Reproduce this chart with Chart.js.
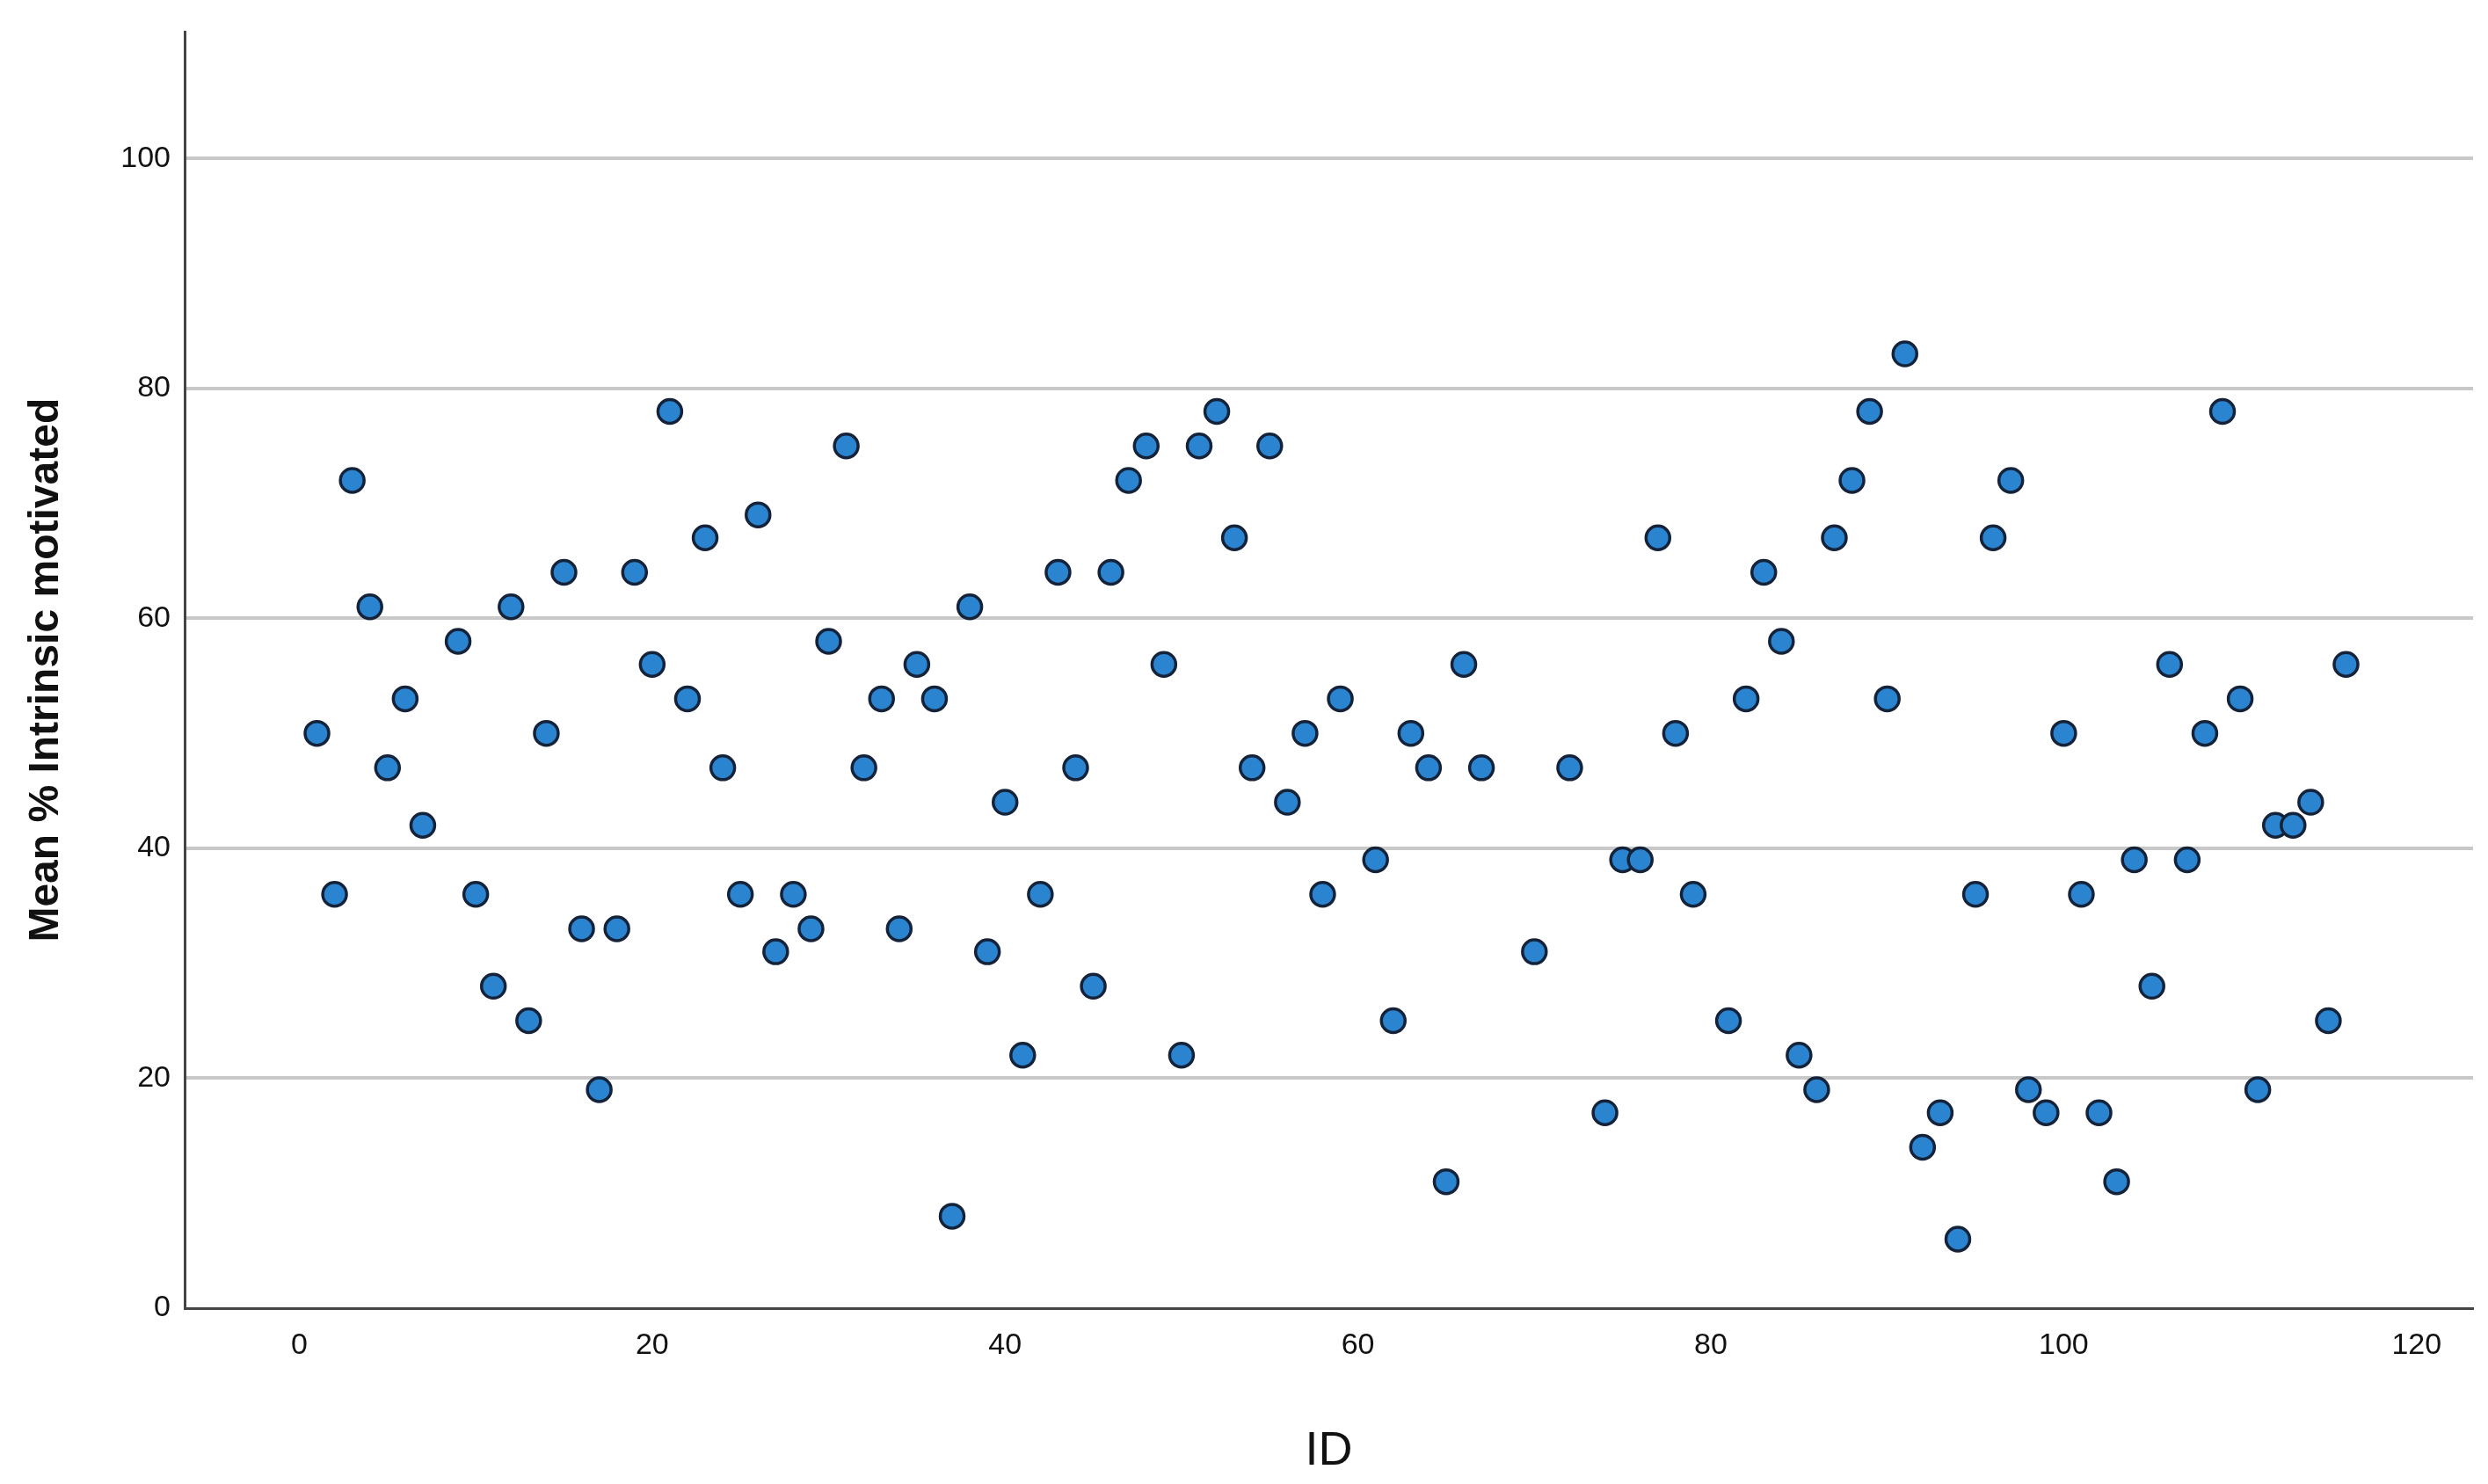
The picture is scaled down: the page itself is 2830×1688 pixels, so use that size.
<!DOCTYPE html>
<html>
<head>
<meta charset="utf-8">
<script src="https://cdn.jsdelivr.net/npm/chart.js@4"></script>
<style>
  html, body { margin: 0; padding: 0; background: #fff; }
</style>
</head>
<body>
<canvas id="grafico" width="2830" height="1688"></canvas>
<script>
// dados
const ids = [1,2,3,4,5,6,7,9,10,11,12,13,14,15,16,17,18,19,20,21,22,23,24,25,26,27,28,29,30,
  31,32,33,34,35,36,37,38,39,40,41,42,43,44,45,46,47,48,49,50,51,52,53,54,55,56,57,58,59,
  61,62,63,64,65,66,67,70,72,74,75,76,77,78,79,81,82,83,84,85,86,87,88,89,90,91,92,93,94,
  95,96,97,98,99,100,101,102,103,104,105,106,107,108,109,110,111,112,113,114,115,116];
const meanIntrinsic = [50,36,72,61,47,53,42,58,36,28,61,25,50,64,33,19,33,64,56,78,53,67,47,36,69,31,36,33,58,
  75,47,53,33,56,53,8,61,31,44,22,36,64,47,28,64,72,75,56,22,75,78,67,47,75,44,50,36,53,
  39,25,50,47,11,56,47,31,47,17,39,39,67,50,36,25,53,64,58,22,19,67,72,78,53,83,14,17,6,
  36,67,72,19,17,50,36,17,11,39,28,56,39,50,78,53,19,42,42,44,25,56];
const xTicks = [0, 20, 40, 60, 80, 100, 120];
const yTicks = [0, 20, 40, 60, 80, 100];

const pontos = ids.map(function (id, i) { return {x: id, y: meanIntrinsic[i]}; });

Chart.defaults.font.family = "'Liberation Sans', Arial, sans-serif";
Chart.defaults.color = "#111";

new Chart(document.getElementById("grafico"), {
    type: "scatter",
    data: {
        datasets: [{
            data: pontos,
            backgroundColor: "#2a84cf",
            borderColor: "#14233a",
            borderWidth: 3.5,
            pointRadius: 13.5,
            pointHoverRadius: 13.5
        }]
    },
    options: {
        responsive: false,
        animation: false,
        plugins: { legend: { display: false }, tooltip: { enabled: false } },
        layout: { padding: { top: 8, right: 9, left: 20 } },
        scales: {
            x: {
                type: "linear",
                min: -6.5,
                max: 123.2,
                afterBuildTicks: function (axis) { axis.ticks = xTicks.map(function (v) { return {value: v}; }); },
                afterFit: function (axis) { axis.height = 200; },
                grid: { display: false, drawTicks: true, tickLength: 0 },
                border: { color: "#444", width: 3 },
                ticks: { font: { size: 34 }, padding: 22, maxRotation: 0 },
                title: { display: true, text: "ID", font: { size: 54 }, padding: { top: 44 } }
            },
            y: {
                min: 0,
                max: 111,
                afterBuildTicks: function (axis) { axis.ticks = yTicks.map(function (v) { return {value: v}; }); },
                afterFit: function (axis) { axis.width = 190; },
                grid: {
                    color: function (ctx) { return ctx.tick && ctx.tick.value === 0 ? "rgba(0,0,0,0)" : "#c8c8c8"; },
                    lineWidth: 4,
                    drawTicks: false
                },
                border: { color: "#444", width: 3 },
                ticks: { font: { size: 34 }, padding: 16 },
                title: { display: true, text: "Mean % Intrinsic motivated", font: { size: 48, weight: "bold" }, padding: { bottom: 18 } }
            }
        }
    }
});
</script>
</body>
</html>
